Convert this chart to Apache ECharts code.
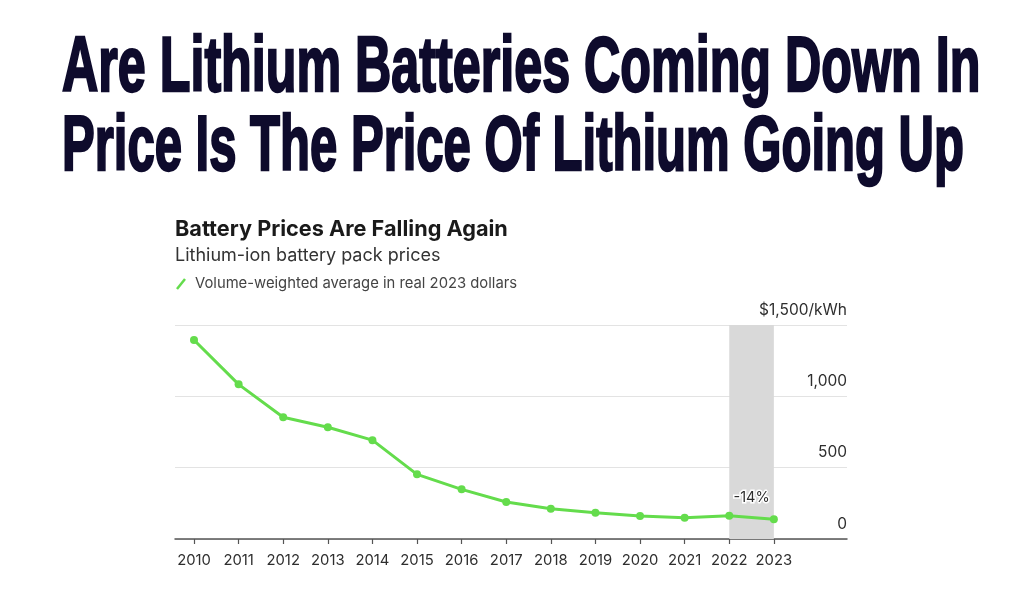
<!DOCTYPE html>
<html><head><meta charset="utf-8">
<script src="https://cdn.jsdelivr.net/npm/echarts@6/dist/echarts.min.js"></script>
<style>html,body{margin:0;padding:0;background:#fff}#c{width:1024px;height:606px}</style>
</head><body><div id="c"></div>
<script>
const years = [2010,2011,2012,2013,2014,2015,2016,2017,2018,2019,2020,2021,2022,2023];
const prices = [1395,1084,853,783,693,453,348,259,212,184,161,149,163,139];
const yTicks = [0,500,1000,1500];
const headline = ['Are Lithium Batteries Coming Down In','Price Is The Price Of Lithium Going Up'];
const chartTitle = 'Battery Prices Are Falling Again';
const chartSubtitle = 'Lithium-ion battery pack prices';
const legendLabel = 'Volume-weighted average in real 2023 dollars';
const changeLabel = '-14%';
const highlightRange = [2022, 2023];

const GREEN = '#64dc4c';
const HFONT = '"Liberation Sans", Arial, sans-serif';
const FONT = 'Inter, "Liberation Sans", Arial, sans-serif';
const chart = echarts.init(document.getElementById('c'), null, {renderer:'canvas'});

function headText(txt, y, sx){
  return {type:'text', x:62, y:y, scaleX:sx, scaleY:0.98,
    style:{text:txt, x:0, y:0, font:'bold 80px '+HFONT, fill:'#0e0b2c', stroke:'#0e0b2c', lineWidth:2.5,
      textAlign:'left', textVerticalAlign:'middle'}};
}

chart.setOption({
  animation:false,
  backgroundColor:'#fff',
  grid:{left:175, right:177, top:325, bottom:67, containLabel:false},
  xAxis:{type:'value', min:2009.574, max:2024.64,
    axisLine:{show:true, onZero:false, lineStyle:{color:'#555', width:1.5}},
    axisTick:{show:true, customValues:years, length:5, lineStyle:{color:'#555', width:1.2}},
    axisLabel:{customValues:years, formatter:v=>String(v), color:'#2e2e2e', fontSize:14.8, fontFamily:FONT, margin:14},
    splitLine:{show:false}},
  yAxis:{type:'value', position:'right', min:0, max:1500, interval:500,
    axisLine:{show:false}, axisTick:{show:false},
    splitLine:{show:true, lineStyle:{color:'#e3e3e3', width:1}},
    axisLabel:{inside:true, margin:0, verticalAlign:'bottom', padding:[0,0,7,0], color:'#2e2e2e', fontSize:15.5, fontFamily:FONT,
      formatter:v=> v===1500 ? '$1,500/kWh' : (v>=1000 ? (v/1000)+','+String(v%1000).padStart(3,'0') : String(v))}},
  series:[{
    type:'line', data:years.map((y,i)=>[y,prices[i]]),
    color:GREEN, lineStyle:{color:GREEN, width:3}, itemStyle:{color:GREEN},
    symbol:'circle', symbolSize:8, z:5,
    markArea:{silent:true, itemStyle:{color:'#d9d9d9'}, data:[[{xAxis:highlightRange[0]},{xAxis:highlightRange[1]}]]},
    markPoint:{silent:true, symbol:'circle', symbolSize:0,
      data:[{coord:[2022.5, 289], value:changeLabel}],
      label:{show:true, position:'inside', formatter:changeLabel, color:'#2e2e2e', fontSize:14.5, fontFamily:FONT,
        textBorderColor:'#fff', textBorderWidth:3}}
  }],
  graphic:[
    headText(headline[0], 69, 0.628),
    headText(headline[1], 148, 0.613),
    {type:'text', x:175, y:229, style:{text:chartTitle, font:'bold 21.7px '+FONT, fill:'#1a1a1a', textVerticalAlign:'middle'}},
    {type:'text', x:175, y:256, style:{text:chartSubtitle, font:'18px '+FONT, fill:'#333', textVerticalAlign:'middle'}},
    {type:'line', shape:{x1:177, y1:289, x2:185, y2:279}, style:{stroke:GREEN, lineWidth:2.5}},
    {type:'text', x:195, y:284, style:{text:legendLabel, font:'14.8px '+FONT, fill:'#444', textVerticalAlign:'middle'}}
  ]
});
</script></body></html>
